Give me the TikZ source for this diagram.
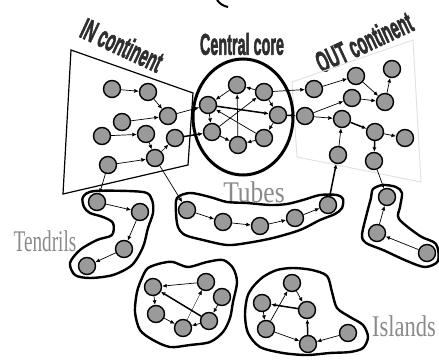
\documentclass[tikz,border=0pt]{standalone}
\usepackage{fontspec}
\usepackage{graphicx}
\setmainfont{Liberation Serif}
\newfontfamily\headfont{Liberation Sans}[BoldFeatures={FakeBold=2.5}]
\usetikzlibrary{arrows.meta}
\definecolor{pagegray}{HTML}{9A9A9A}
\definecolor{headgray}{HTML}{2E2E2E}
\definecolor{labelgray}{HTML}{8A8A8A}
\definecolor{rimgray}{HTML}{E2E2E2}

\begin{document}
\begin{tikzpicture}[x=1pt,y=-1pt,>=Latex]
  \tikzset{
    page/.style={circle,draw,line width=1.4pt,fill=pagegray,minimum size=17pt,inner sep=0pt},
    link/.style={line width=.7pt,-{Latex[length=4.5pt,width=4pt]}},
    biglink/.style={link,line width=1.5pt},
    region/.style={line width=2.4pt,line join=round},
    head/.style={inner sep=0pt,text=headgray,font=\headfont\bfseries\fontsize{30}{30}\selectfont},
    tag/.style={inner sep=0pt,text=labelgray,font=\fontsize{30}{30}\selectfont}
  }
  \useasboundingbox (0,0) rectangle (439,361);

  % stray stroke at the top edge
  \draw[line width=2pt] (217,0) to[bend right=20] (228,7);

  % labels
  \node[head,rotate=-25] (INlab) at (122,45) {\scalebox{.5}[1]{IN continent}};
  \node[head] (CORElab) at (242,44) {\scalebox{.48}[1]{Central core}};
  \node[head,rotate=25] (OUTlab) at (364,42) {\scalebox{.5}[1]{OUT continent}};
  \node[tag] (TUBlab) at (254,192) {\scalebox{.85}[1]{Tubes}};
  \node[tag] (TENlab) at (45,241) {\scalebox{.64}[1]{Tendrils}};
  \node[tag] (ISLlab) at (404,326) {\scalebox{.75}[1]{Islands}};

  % continents and core
  \draw[line width=1.2pt] (71,50) -- (193,93) -- (188,165) -- (63,194) -- cycle;
  \draw[rimgray,line width=1pt] (292,82) -- (413,40) -- (421,182) -- (297,157) -- cycle;
  \draw[line width=3pt] (243,117) ellipse [x radius=50,y radius=58];

  % outlines of tendrils, tubes and islands
  \draw[region] plot[smooth cycle,tension=.5] coordinates {(83,197) (95,191) (143,192) (152,200) (153,213) (148,228) (143,247) (132,265) (113,275) (90,278) (75,275) (70,263) (80,250) (97,240) (112,235) (113,223) (103,217) (90,213) (84,207)};
  \draw[region] plot[smooth cycle,tension=.5] coordinates {(177,198) (190,193) (210,197) (227,202) (247,203) (270,205) (287,204) (303,200) (320,195) (337,195) (343,199) (342,208) (335,214) (320,220) (300,230) (273,238) (247,243) (227,245) (203,240) (185,235) (178,227) (176,213)};
  \draw[region] plot[smooth cycle,tension=.5] coordinates {(373,189) (383,185) (396,187) (402,193) (400,207) (399,219) (420,236) (436,244) (438,261) (425,267) (407,261) (383,250) (366,243) (362,235) (367,213) (371,198)};
  \draw[region] plot[smooth cycle,tension=.5] coordinates {(148,268) (162,263) (173,262) (188,267) (207,262) (223,260) (233,268) (237,282) (233,302) (230,318) (223,332) (210,342) (190,345) (170,347) (153,340) (140,330) (135,312) (137,292) (142,278)};
  \draw[region] plot[smooth cycle,tension=.5] coordinates {(252,288) (263,277) (277,270) (293,268) (312,270) (327,276) (332,292) (337,308) (350,317) (363,325) (368,337) (363,348) (350,352) (330,353) (307,355) (283,353) (260,347) (248,333) (245,315) (247,298)};

  % IN continent
  \node[page] (Ia) at (112,89) {};
  \node[page] (Ib) at (148,92) {};
  \node[page] (Ic) at (168,116) {};
  \node[page] (Id) at (122,122) {};
  \node[page] (Ie) at (102,136) {};
  \node[page] (If) at (146,134) {};
  \node[page] (Ig) at (175,138) {};
  \node[page] (Ih) at (155,158) {};
  \node[page] (Ii) at (108,165) {};

  % central core
  \node[page] (Ca) at (237,85) {};
  \node[page] (Cb) at (264,92) {};
  \node[page] (Cc) at (208,105) {};
  \node[page] (Cd) at (278,115) {};
  \node[page] (Ce) at (212,132) {};
  \node[page] (Cf) at (264,138) {};
  \node[page] (Cg) at (238,145) {};

  % OUT continent
  \node[page] (Oa) at (314,89) {};
  \node[page] (Ob) at (356,76) {};
  \node[page] (Oc) at (392,69) {};
  \node[page] (Od) at (352,98) {};
  \node[page] (Oe) at (385,102) {};
  \node[page] (Of) at (305,116) {};
  \node[page] (Og) at (342,119) {};
  \node[page] (Oh) at (375,132) {};
  \node[page] (Oi) at (405,138) {};
  \node[page] (Oj) at (338,155) {};
  \node[page] (Ok) at (374,161) {};

  % tubes
  \node[page] (Ta) at (187,210) {};
  \node[page] (Tb) at (223,222) {};
  \node[page] (Tc) at (260,226) {};
  \node[page] (Td) at (295,218) {};
  \node[page] (Te) at (328,205) {};

  % tendrils
  \node[page] (Da) at (97,202) {};
  \node[page] (Db) at (140,212) {};
  \node[page] (Dc) at (124,249) {};
  \node[page] (Dd) at (87,266) {};
  \node[page] (Ra) at (387,197) {};
  \node[page] (Rb) at (377,233) {};
  \node[page] (Rc) at (427,253) {};

  % islands
  \node[page] (Ka) at (153,287) {};
  \node[page] (Kb) at (206,282) {};
  \node[page] (Kc) at (222,297) {};
  \node[page] (Kd) at (156,314) {};
  \node[page] (Ke) at (183,328) {};
  \node[page] (Kf) at (209,321) {};
  \node[page] (La) at (292,283) {};
  \node[page] (Lb) at (262,303) {};
  \node[page] (Lc) at (307,310) {};
  \node[page] (Ld) at (266,329) {};
  \node[page] (Le) at (308,344) {};
  \node[page] (Lf) at (348,333) {};

  % links
  \draw[link] (Ia)--(Ib); \draw[link] (Ib)--(Ic); \draw[link] (Id)--(Ic);
  \draw[link] (Ie)--(If); \draw[link] (If)--(Ih); \draw[link] (Ii)--(Ih);
  \draw[link] (Ih)--(Ig); \draw[biglink] (Ig)--(Ce); \draw[link] (Ic)--(Cc);
  \draw[link] (Ih)--(Ta); \draw[link] (Ii)--(Da);

  \draw[link] (Cb)--(Ca); \draw[link] (Ca)--(Cc); \draw[link] (Cb)--(Cd);
  \draw[biglink] (Cc)--(Cd); \draw[link] (Cf)--(Cc); \draw[link] (Cg)--(Ca);
  \draw[link] (Ce)--(Cb); \draw[link] (Cc)--(Ce); \draw[link] (Ce)--(Cg);
  \draw[link] (Cf)--(Cg); \draw[link] (Cd)--(Cf);
  \draw[link] (Cb)--(Oa); \draw[biglink] (Cd)--(Of);

  \draw[link] (Oa)--(Ob); \draw[link] (Ob)--(Oe); \draw[link] (Od)--(Oe);
  \draw[link] (Oe)--(Oc); \draw[link] (Of)--(Od); \draw[link] (Of)--(Og);
  \draw[biglink] (Og)--(Oh); \draw[link] (Oh)--(Oi); \draw[biglink] (Oh)--(Ok);
  \draw[link] (Oj)--(Og); \draw[link] (Ok)--(Ra);

  \draw[link] (Ta)--(Tb); \draw[link] (Tb)--(Tc); \draw[link] (Tc)--(Td);
  \draw[link] (Td)--(Te); \draw[biglink] (Te)--(Oj);

  \draw[link] (Da)--(Db); \draw[link] (Db)--(Dc); \draw[link] (Dc)--(Dd);
  \draw[link] (Rb)--(Ra); \draw[link] (Rc)--(Rb);

  \draw[link] (Kb)--(Ka); \draw[biglink] (Kf)--(Ka); \draw[link,line width=.4pt] (Ke)--(Kb);
  \draw[link] (Ka)--(Kd); \draw[link] (Kd)--(Ke); \draw[link] (Kc)--(Kf);
  \draw[link] (Kf)--(Ke);

  \draw[link] (La)--(Lc); \draw[link] (Lb)--(Ld); \draw[link] (Ld)--(La);
  \draw[biglink] (Lc)--(Lb); \draw[biglink] (Le)--(Lc); \draw[link] (Ld)--(Le);
  \draw[link] (Lf)--(Le);
\end{tikzpicture}
\end{document}
